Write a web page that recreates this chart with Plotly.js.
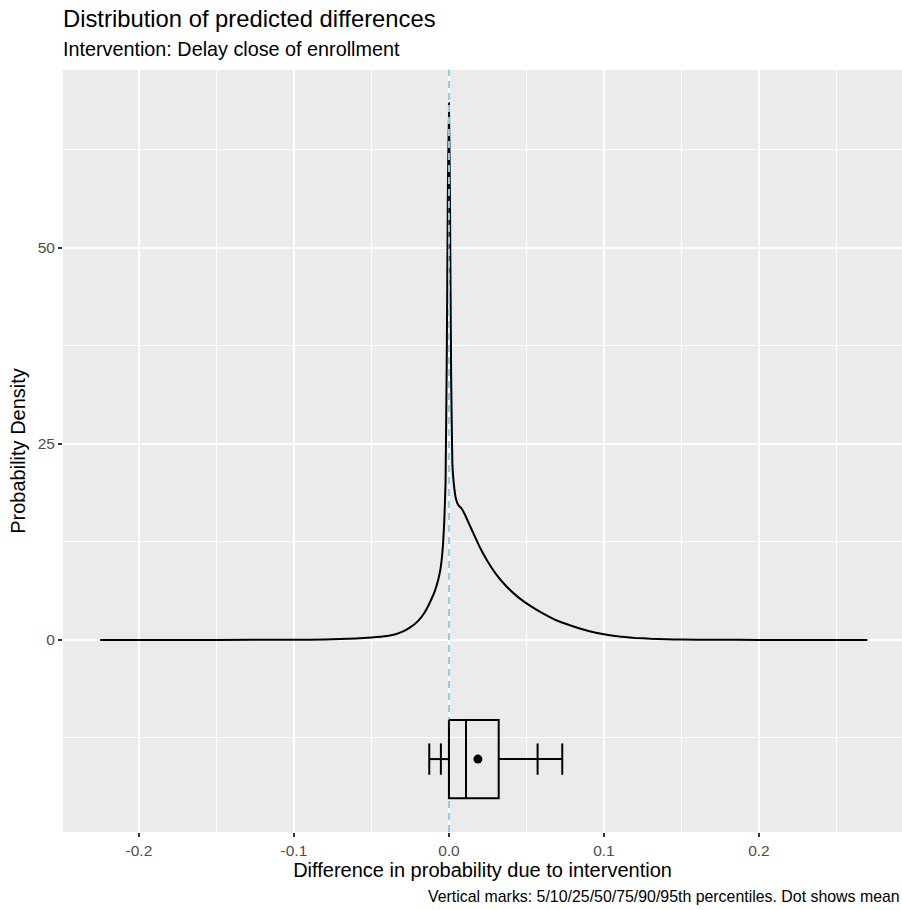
<!DOCTYPE html>
<html>
<head>
<meta charset="utf-8">
<script src="https://cdn.plot.ly/plotly-3.0.1.min.js"></script>
<style>html,body{margin:0;padding:0;background:#fff;overflow:hidden;}#chart{width:902px;height:910px;}</style>
</head>
<body>
<div id="chart"></div>
<script>
// Density curve (x: difference in probability, y: density)
const densX = [-0.225, -0.2, -0.15, -0.1, -0.08, -0.07, -0.06, -0.05, -0.04, -0.035, -0.03, -0.025, -0.02, -0.016, -0.012, -0.009, -0.007, -0.0055, -0.0045, -0.0038, -0.003, -0.0022, -0.0014, -0.0007, 0, 0.0007, 0.0014, 0.0022, 0.003, 0.0045, 0.006, 0.008, 0.0105, 0.013, 0.016, 0.02, 0.025, 0.03, 0.037, 0.045, 0.052, 0.06, 0.07, 0.08, 0.09, 0.1, 0.11, 0.12, 0.13, 0.14, 0.15, 0.17, 0.2, 0.24, 0.27];
const densY = [0, 0, 0, 0.02, 0.06, 0.11, 0.18, 0.3, 0.5, 0.7, 1.05, 1.6, 2.4, 3.4, 4.9, 6.3, 7.6, 9.0, 10.6, 12.2, 15.2, 20, 36, 57, 68.5, 55, 34, 22.5, 20.2, 18.0, 17.2, 16.8, 15.9, 14.8, 13.5, 11.8, 10.0, 8.5, 6.85, 5.4, 4.4, 3.45, 2.45, 1.75, 1.15, 0.72, 0.43, 0.26, 0.15, 0.09, 0.05, 0.02, 0.005, 0, 0];

// Percentiles 5/10/25/50/75/90/95 and mean
const pctLabels = ["5th", "10th", "25th", "50th", "75th", "90th", "95th"];
const pctValues = [-0.0127, -0.0052, 0.0, 0.011, 0.0321, 0.0572, 0.0731];
const meanValue = 0.0187;

// Axis ticks
const xTickVals = [-0.2, -0.1, 0, 0.1, 0.2];
const xTickText = ["-0.2", "-0.1", "0.0", "0.1", "0.2"];
const xMinorVals = [-0.15, -0.05, 0.05, 0.15, 0.25];
const yTickVals = [0, 25, 50];
const yTickText = ["0", "25", "50"];
const yMinorVals = [-12.5, 12.5, 37.5, 62.5];

const xRange = [-0.249, 0.2923];
const yRange = [-24.5, 72.7];
const boxMid = -15.2, boxHalf = 5.0, tickHalf = 2.0;

const [p5, p10, p25, p50, p75, p90, p95] = pctValues;
const lineStyle = {color: '#000000', width: 2};
const traces = [];

traces.push({x: densX, y: densY, type: 'scatter', mode: 'lines', line: {color: '#000000', width: 2, shape: 'spline', smoothing: 0.3}, hoverinfo: 'skip'});

// reference line at zero
traces.push({x: [0, 0], y: yRange, type: 'scatter', mode: 'lines', line: {color: '#87CEEB', width: 2, dash: '7px,5px'}, hoverinfo: 'skip'});

// box
traces.push({x: [p25, p75, p75, p25, p25], y: [boxMid + boxHalf, boxMid + boxHalf, boxMid - boxHalf, boxMid - boxHalf, boxMid + boxHalf], type: 'scatter', mode: 'lines', line: lineStyle, hoverinfo: 'skip'});
// median
traces.push({x: [p50, p50], y: [boxMid + boxHalf, boxMid - boxHalf], type: 'scatter', mode: 'lines', line: lineStyle, hoverinfo: 'skip'});
// whiskers
traces.push({x: [p5, p25, null, p75, p95], y: [boxMid, boxMid, null, boxMid, boxMid], type: 'scatter', mode: 'lines', line: lineStyle, hoverinfo: 'skip'});
// vertical marks
const tickX = [], tickY = [];
[p5, p10, p90, p95].forEach(v => { tickX.push(v, v, null); tickY.push(boxMid + tickHalf, boxMid - tickHalf, null); });
traces.push({x: tickX, y: tickY, type: 'scatter', mode: 'lines', line: lineStyle, hoverinfo: 'skip'});
// mean dot
traces.push({x: [meanValue], y: [boxMid], type: 'scatter', mode: 'markers', marker: {color: '#000000', size: 9}, hoverinfo: 'skip'});

const T = 70, B = 832, L = 63, R = 902;
const py = p => (B - p) / (B - T);
const px = p => (p - L) / (R - L);

const layout = {
  width: 902, height: 910,
  margin: {l: L, r: 902 - R, t: T, b: 910 - B, pad: 0},
  paper_bgcolor: '#FFFFFF',
  plot_bgcolor: '#EBEBEB',
  showlegend: false,
  font: {family: 'Liberation Sans, Arial, sans-serif', color: '#000000'},
  xaxis: {
    range: xRange, tickmode: 'array', tickvals: xTickVals, ticktext: xTickText,
    showgrid: true, gridcolor: '#FFFFFF', gridwidth: 2, zeroline: false, showline: false,
    ticks: 'outside', ticklen: 4, tickwidth: 2, tickcolor: '#333333',
    tickfont: {size: 15.5, color: '#4D4D4D'},
    minor: {tickmode: 'array', tickvals: xMinorVals, showgrid: true, gridcolor: '#FFFFFF', gridwidth: 1, ticks: ''},
    title: {text: 'Difference in probability due to intervention', font: {size: 20, color: '#000000'}, standoff: 4},
    fixedrange: true
  },
  yaxis: {
    range: yRange, tickmode: 'array', tickvals: yTickVals, ticktext: yTickText,
    showgrid: true, gridcolor: '#FFFFFF', gridwidth: 2, zeroline: false, showline: false,
    ticks: 'outside', ticklen: 4, tickwidth: 2, tickcolor: '#333333',
    tickfont: {size: 15.5, color: '#4D4D4D'},
    minor: {tickmode: 'array', tickvals: yMinorVals, showgrid: true, gridcolor: '#FFFFFF', gridwidth: 1, ticks: ''},
    title: {text: 'Probability Density', font: {size: 20, color: '#000000'}, standoff: 6},
    fixedrange: true
  },
  annotations: [
    {text: 'Distribution of predicted differences', xref: 'paper', yref: 'paper', x: px(61), y: py(19), xanchor: 'left', yanchor: 'middle', showarrow: false, font: {size: 23.8, color: '#000000'}},
    {text: 'Intervention: Delay close of enrollment', xref: 'paper', yref: 'paper', x: px(61), y: py(49), xanchor: 'left', yanchor: 'middle', showarrow: false, font: {size: 19.8, color: '#000000'}},
    {text: 'Vertical marks: 5/10/25/50/75/90/95th percentiles. Dot shows mean', xref: 'paper', yref: 'paper', x: 1, y: py(896), xanchor: 'right', yanchor: 'middle', showarrow: false, font: {size: 15.9, color: '#000000'}}
  ]
};

Plotly.newPlot('chart', traces, layout, {displayModeBar: false, staticPlot: true});
</script>
</body>
</html>
